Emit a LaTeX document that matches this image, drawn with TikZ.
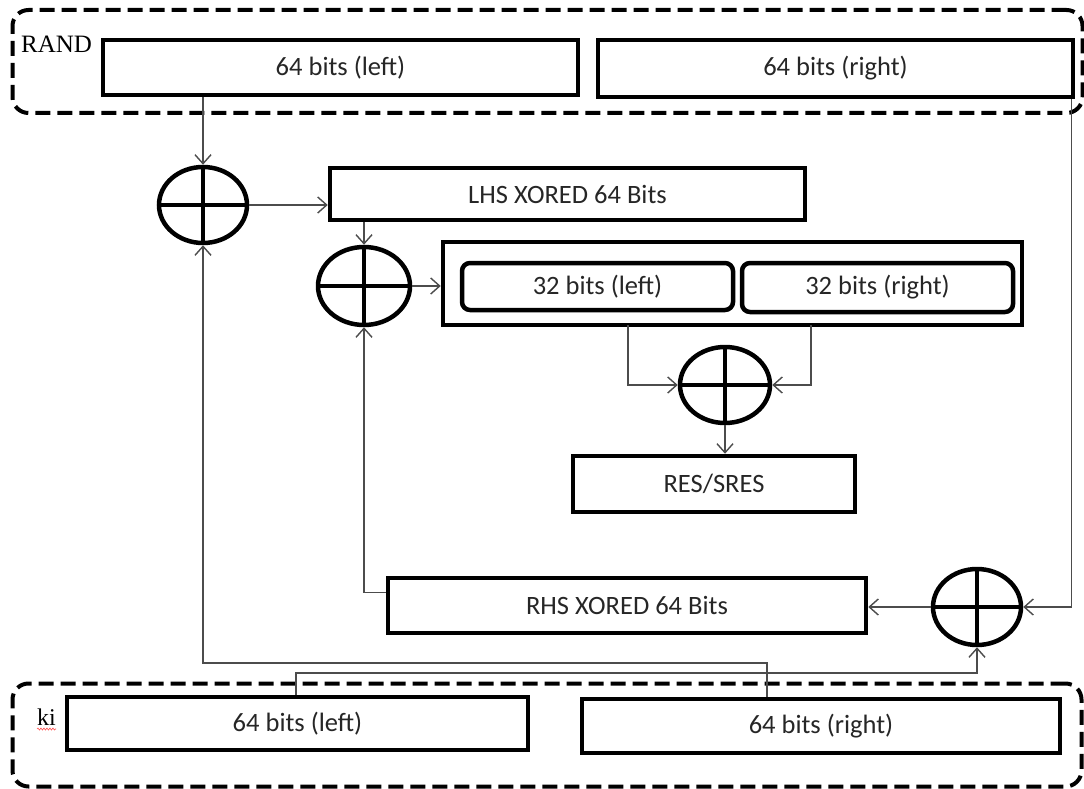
\documentclass[tikz,border=0pt]{standalone}
\usepackage{fontspec}
\setmainfont{Carlito}
\newfontfamily\serifrm{Liberation Serif}
\usetikzlibrary{shapes.geometric,arrows.meta,decorations.pathmorphing}
\begin{document}
\begin{tikzpicture}[x=1pt,y=-1pt,
  box/.style={draw=black, line width=4.5pt, rectangle, inner sep=0pt,
    font=\fontsize{26.5}{30}\selectfont, text=black!85},
  rbox/.style={box, rounded corners=8pt},
  grp/.style={draw=black, line width=4pt, dash pattern=on 15pt off 7pt,
    rounded corners=16pt, rectangle, inner sep=0pt},
  xor/.style={draw=black, ellipse, line width=4.5pt, minimum width=88pt,
    minimum height=76pt, inner sep=0pt,
    path picture={\draw[line width=4pt]
      (path picture bounding box.north) -- (path picture bounding box.south)
      (path picture bounding box.west) -- (path picture bounding box.east);}},
  conn/.style={draw=black!70, line width=1.4pt},
  arr/.style={conn, -{Straight Barb[length=9pt,width=16pt]}}
]
\useasboundingbox (0,0) rectangle (1084,789);

% group frames
\node[grp, minimum width=1070pt, minimum height=103pt] (randgrp) at (547.5,61.5) {};
\node[grp, minimum width=1069pt, minimum height=103pt] (kigrp) at (547,735) {};

\node[anchor=base west, inner sep=0pt, font=\serifrm\fontsize{25}{30}\selectfont] (rand) at (21,53) {RAND};
\node[anchor=base west, inner sep=0pt, font=\serifrm\fontsize{24}{28}\selectfont] (ki) at (37,725) {ki};
\draw[red!70, line width=0.6pt, decorate, decoration={snake, amplitude=1pt, segment length=3pt}]
  ([yshift=-4pt]ki.base west) -- ([yshift=-4pt]ki.base east);

% boxes
\node[box, minimum width=475pt, minimum height=55pt] (tl) at (340.5,67.5) {64 bits (left)};
\node[box, minimum width=475pt, minimum height=57pt] (tr) at (835.5,68.5) {64 bits (right)};
\node[box, minimum width=475pt, minimum height=52pt] (lhs) at (567.5,194) {LHS XORED 64 Bits};
\node[box, minimum width=579pt, minimum height=83pt] (big) at (732.5,283.5) {};
\node[rbox, minimum width=271pt, minimum height=47pt] (inl) at (597.5,286.5) {32 bits (left)};
\node[rbox, minimum width=271pt, minimum height=49pt] (inr) at (877.5,287.5) {32 bits (right)};
\node[box, minimum width=282pt, minimum height=56pt] (res) at (714,484) {RES/SRES};
\node[box, minimum width=478pt, minimum height=55pt] (rhs) at (627,605.5) {RHS XORED 64 Bits};
\node[box, minimum width=461pt, minimum height=53pt] (bl) at (297.5,723.5) {64 bits (left)};
\node[box, minimum width=478pt, minimum height=54pt] (br) at (821,726) {64 bits (right)};

% xor gates
\node[xor] (x1) at (203,205) {};
\node[xor, minimum width=92pt, minimum height=78pt] (x2) at (364,286) {};
\node[xor, minimum width=90pt] (x3) at (725,385) {};
\node[xor] (x4) at (977,607) {};

% connector anchors
\coordinate (p1) at (628,325);
\coordinate (p2) at (811,325);
\coordinate (p3) at ([xshift=-4pt]tr.south east);
\coordinate (p4) at ([yshift=13pt]rhs.west);
\coordinate (p5) at ([xshift=-54pt]br.north);
\coordinate (p6) at ([xshift=-1.5pt]bl.north);
\coordinate (h5) at (767,663);
\coordinate (h6) at (296,673);

% connectors
\draw[arr] (x1.north |- tl.south) -- (x1.north);
\draw[arr] (x1.east) -- (x1.east -| lhs.west);
\draw[arr] (x2.north |- lhs.south) -- (x2.north);
\draw[arr] (x2.east) -- (x2.east -| big.west);
\draw[arr] (p1) |- (x3.west);
\draw[arr] (p2) |- (x3.east);
\draw[arr] (x3.south) -- (x3.south |- res.north);
\draw[arr] (p3) |- (x4.east);
\draw[arr] (x4.west) -- (x4.west -| rhs.east);
\draw[arr] (p4) -| (x2.south);
\draw[arr] (p5) -- (h5) -| (x1.south);
\draw[arr] (p6) -- (h6) -| (x4.south);
\end{tikzpicture}
\end{document}
